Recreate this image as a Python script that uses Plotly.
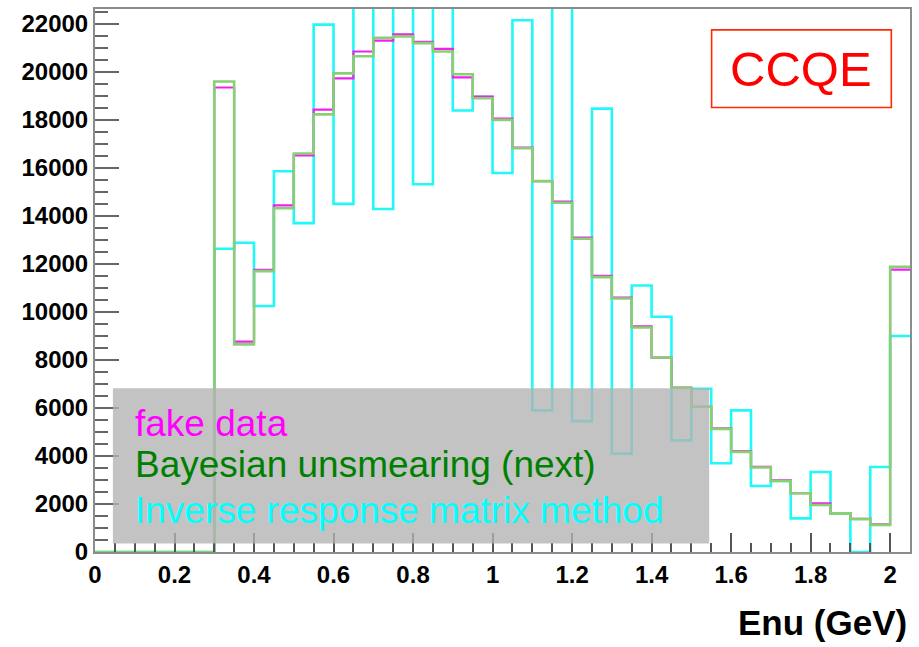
import plotly.graph_objects as go

# Bin edges (GeV), bin width 0.05
bin_edges = [0.00, 0.05, 0.10, 0.15, 0.20, 0.25, 0.30, 0.35, 0.40, 0.45,
             0.50, 0.55, 0.60, 0.65, 0.70, 0.75, 0.80, 0.85, 0.90, 0.95,
             1.00, 1.05, 1.10, 1.15, 1.20, 1.25, 1.30, 1.35, 1.40, 1.45,
             1.50, 1.55, 1.60, 1.65, 1.70, 1.75, 1.80, 1.85, 1.90, 1.95,
             2.00, 2.05]

fake_data = [0, 0, 0, 0, 0, 0,
             19350, 8760, 11750, 14440, 16520, 18430, 19730, 20850, 21300, 21560,
             21250, 20960, 19770, 18970, 18050, 16850, 15450, 14600, 13100, 11500,
             10600, 9400, 8100, 6850, 6050, 5150, 4200, 3550, 2980, 2450,
             2030, 1620, 1380, 1150, 11760]

bayesian = [0, 0, 0, 0, 0, 0,
            19600, 8650, 11700, 14320, 16600, 18230, 19940, 20650, 21420, 21480,
            21200, 20850, 19900, 18900, 18000, 16820, 15450, 14550, 13050, 11450,
            10560, 9350, 8100, 6840, 6050, 5130, 4170, 3520, 2960, 2450,
            1960, 1610, 1370, 1130, 11880]

inverse = [0, 0, 0, 0, 0, 0,
           12630, 12880, 10250, 15860, 13700, 21970, 14500, 24000, 14290, 24000,
           15320, 24000, 18390, 18960, 15790, 22150, 5900, 24000, 5450, 18470,
           4100, 11100, 9800, 4650, 6800, 3700, 5900, 2750, 2960, 1400,
           3330, 1610, 0, 3540, 9000]

legend_labels = ["fake data", "Bayesian unsmearing (next)", "Inverse response matrix method"]
legend_colors = ["#ff00ff", "#008000", "#00ffff"]

FONT = "Liberation Sans, Arial, Helvetica, sans-serif"


def step(vals):
    return list(vals) + [vals[-1]]


fig = go.Figure()
fig.add_trace(go.Scatter(x=bin_edges, y=step(inverse), mode="lines",
                         line=dict(color="#22f8f8", width=2.6, shape="hv"),
                         name=legend_labels[2], showlegend=False))
fig.add_trace(go.Scatter(x=bin_edges, y=step(fake_data), mode="lines",
                         line=dict(color="#f020f0", width=2.2, shape="hv"),
                         name=legend_labels[0], showlegend=False))
fig.add_trace(go.Scatter(x=bin_edges, y=step(bayesian), mode="lines",
                         line=dict(color="#86d272", width=2.6, shape="hv"),
                         name=legend_labels[1], showlegend=False))

# legend box (semi-transparent, drawn above lines)
fig.add_shape(type="rect", xref="x", yref="y", x0=0.045, x1=1.545, y0=350, y1=6820,
              fillcolor="rgba(178,178,178,0.78)", line=dict(width=0), layer="above")
legend_y = [5370, 3630, 1720]
for lab, col, yy in zip(legend_labels, legend_colors, legend_y):
    fig.add_annotation(x=0.095, y=yy, xref="x", yref="y", text=lab, showarrow=False,
                       xanchor="left", yanchor="middle",
                       font=dict(family=FONT, size=37, color=col))

# CCQE box
fig.add_shape(type="rect", xref="x", yref="y", x0=1.551, x1=2.003, y0=18516, y1=21751,
              fillcolor="rgba(0,0,0,0)", line=dict(color="#ff2a00", width=1.6), layer="above")
fig.add_annotation(x=1.777, y=20100, xref="x", yref="y", text="CCQE", showarrow=False,
                   xanchor="center", yanchor="middle",
                   font=dict(family=FONT, size=49, color="#ff0000"))

# x-axis title
fig.add_annotation(x=0.999, y=-0.17, xref="paper", yref="paper", text="Enu (GeV)",
                   showarrow=False, xanchor="right", yanchor="bottom",
                   font=dict(family=FONT, size=35, color="#000000", weight="bold"))

fig.update_layout(
    width=919, height=647,
    margin=dict(l=95, r=7, t=7, b=95),
    paper_bgcolor="white", plot_bgcolor="white",
    showlegend=False,
)
fig.update_xaxes(range=[0, 2.05], showgrid=False, zeroline=False,
                 showline=True, linecolor="#8c8c8c", linewidth=2, mirror=True,
                 ticks="inside", ticklen=19, tickwidth=1.5, tickcolor="#555555",
                 tick0=0, dtick=0.2,
                 minor=dict(ticks="inside", ticklen=9, dtick=0.05, tickcolor="#555555", tickwidth=1.5),
                 tickfont=dict(family=FONT, size=24, color="#000000", weight="bold"))
fig.update_yaxes(range=[0, 22620], showgrid=False, zeroline=False,
                 showline=True, linecolor="#8c8c8c", linewidth=2, mirror=True,
                 ticks="inside", ticklen=24, tickwidth=1.5, tickcolor="#666666",
                 tick0=0, dtick=2000, tickformat="d",
                 minor=dict(ticks="inside", ticklen=13, dtick=500, tickcolor="#666666", tickwidth=1.5),
                 tickfont=dict(family=FONT, size=24, color="#000000", weight="bold"))

fig.write_html("out.html")
